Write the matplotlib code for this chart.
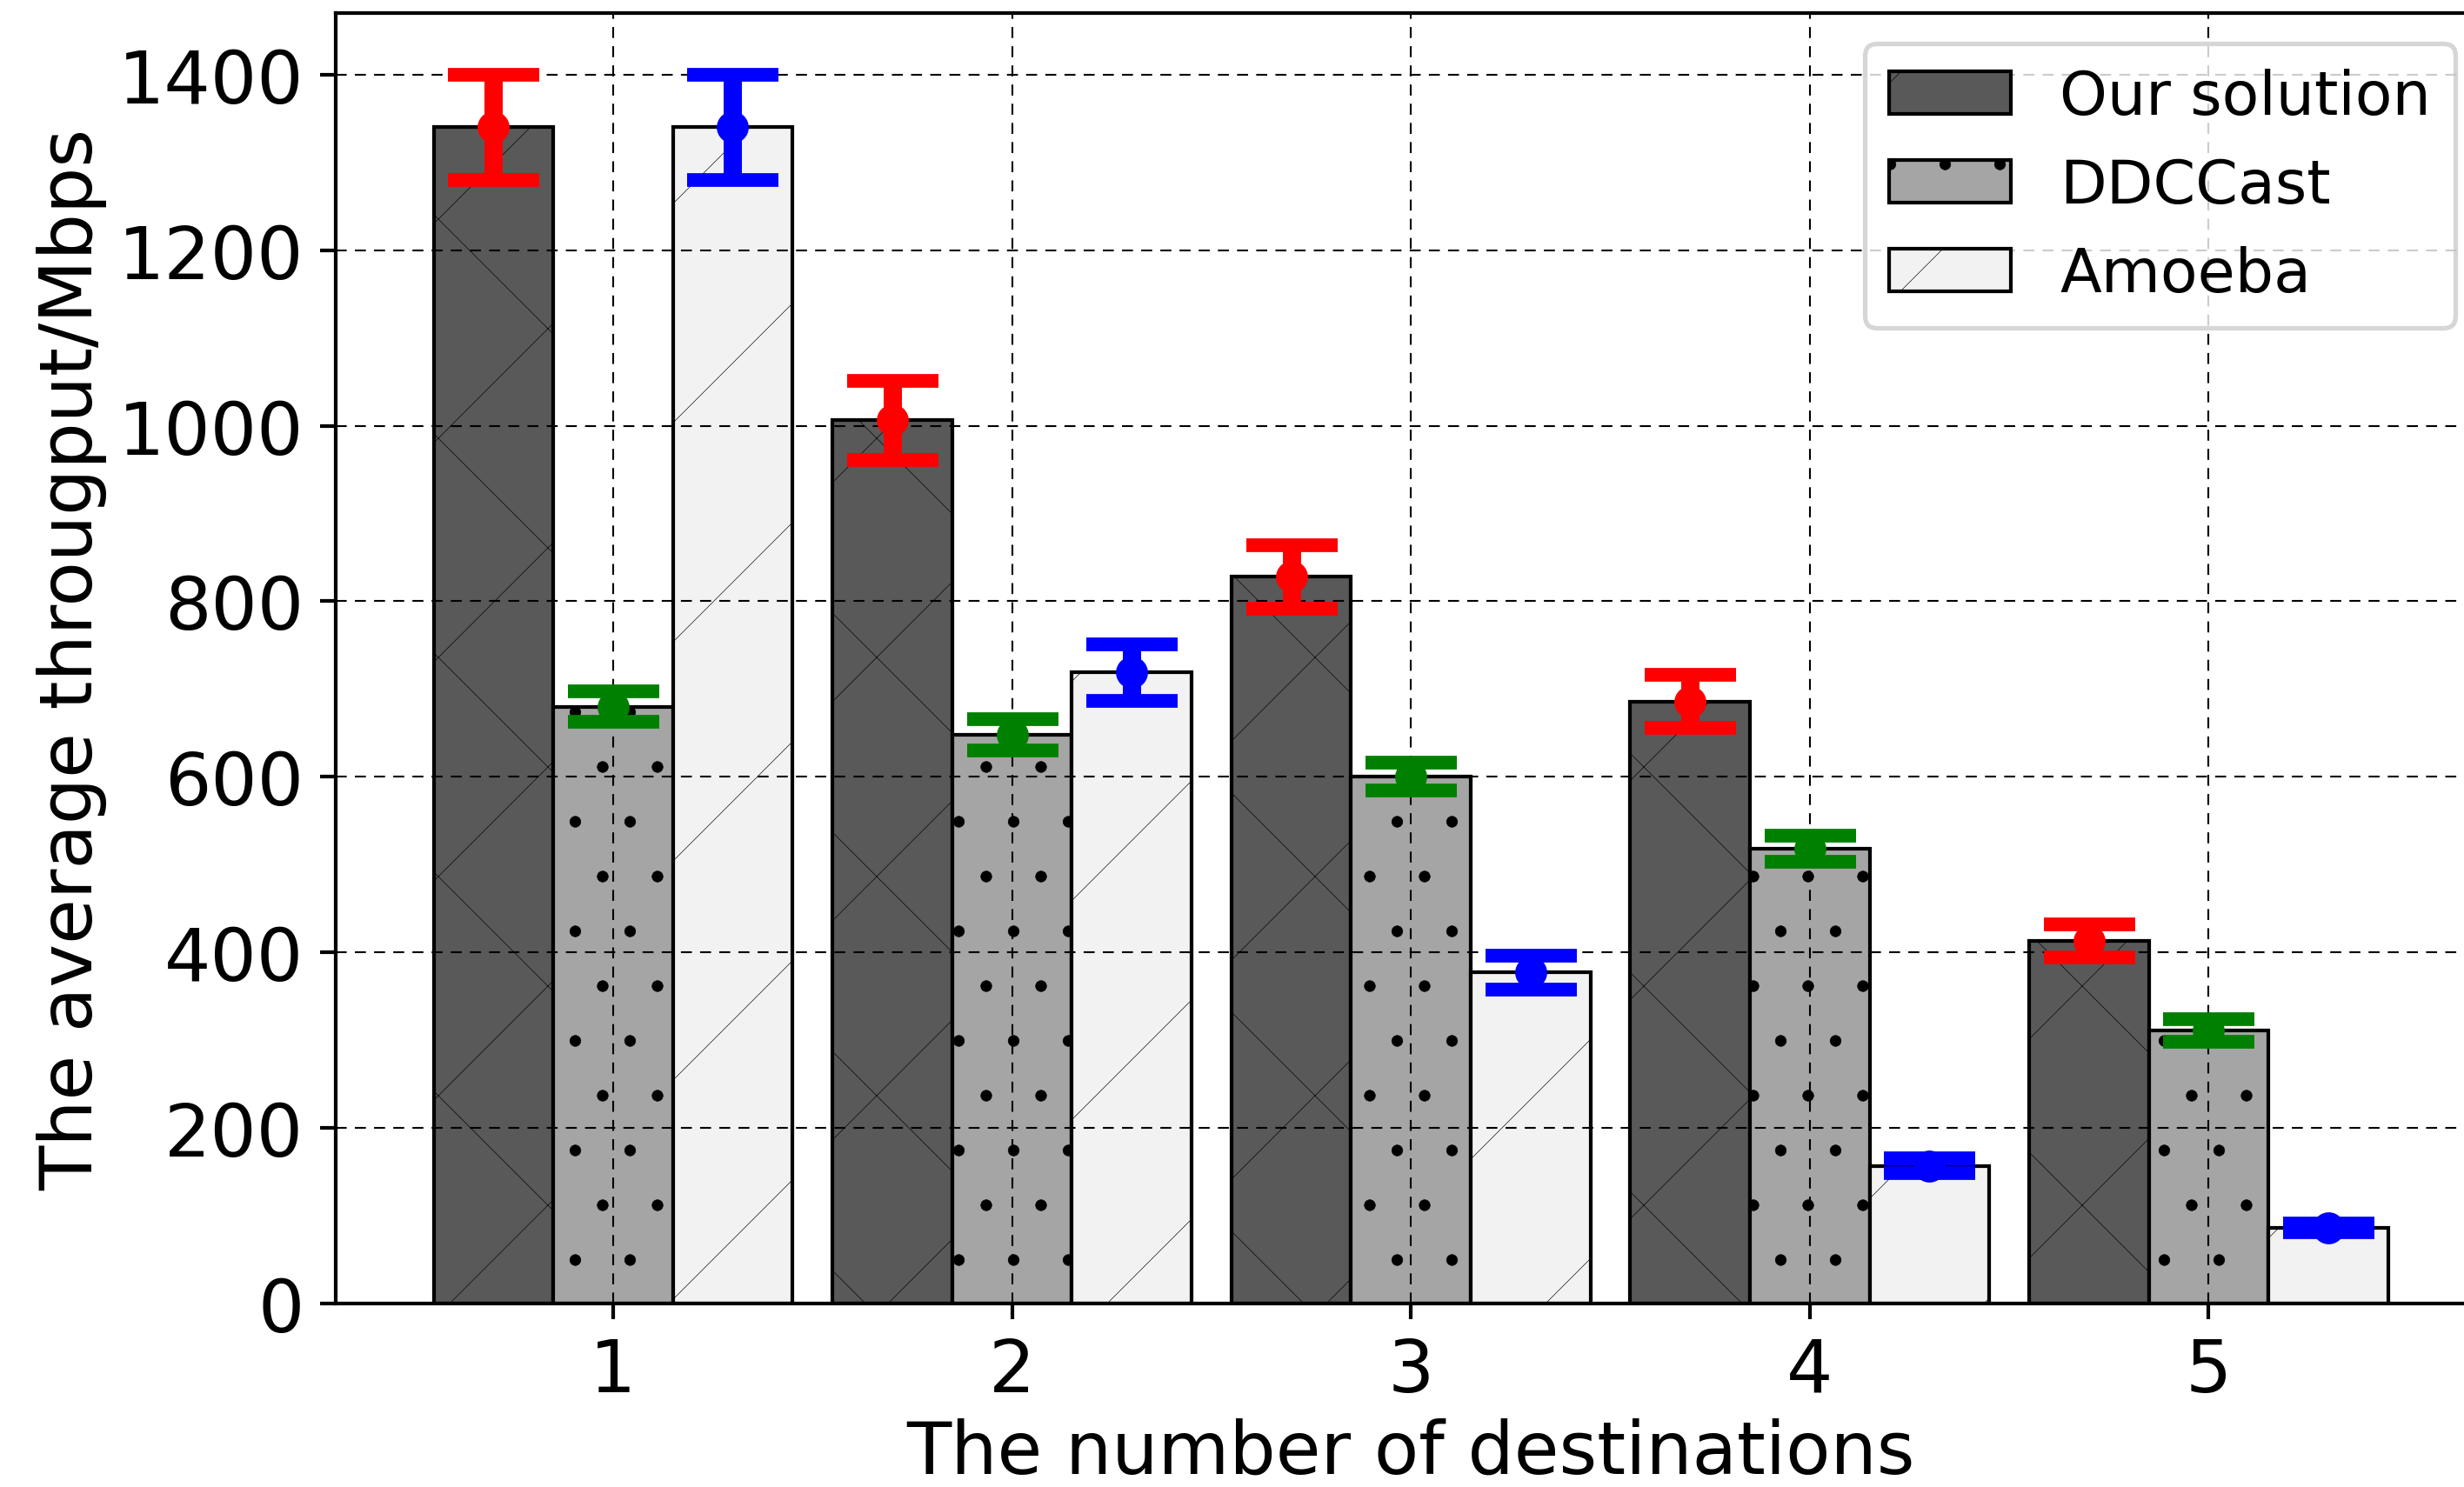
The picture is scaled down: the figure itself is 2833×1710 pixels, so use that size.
import matplotlib
matplotlib.use("Agg")
import matplotlib.pyplot as plt
import numpy as np

# average throughput per number of destinations (Mbps)
destinations = [1, 2, 3, 4, 5]
labels = ["Our solution", "DDCCast", "Amoeba"]

ours = [1340, 1006, 828, 686, 413]
ours_err = [60, 45, 36, 30, 19]
ddccast = [680, 648, 600, 518, 311]
ddccast_err = [17, 18, 16, 15, 13]
amoeba = [1340, 719, 377, 157, 86]
amoeba_err = [60, 32, 19, 8, 5]

# high dpi so the hatch lines come out as wide apart as in the original
dpi = 756
plt.rcParams.update({
    "font.size": 8,
    "axes.linewidth": 0.4,
    "xtick.major.size": 1.75, "xtick.major.width": 0.4, "xtick.major.pad": 1.75,
    "ytick.major.size": 1.75, "ytick.major.width": 0.4, "ytick.major.pad": 1.75,
    "axes.labelpad": 1.2,
    "patch.linewidth": 0.5,
    "lines.markeredgewidth": 0.5,
    "hatch.linewidth": 0.06,
})

fig = plt.figure(figsize=(2833 / dpi, 1711 / dpi), dpi=dpi)
ax = fig.add_axes([0.1363, 0.1233, 0.8726, 0.8673])

x = np.array(destinations)
w = 0.3
series = [ours, ddccast, amoeba]
errs = [ours_err, ddccast_err, amoeba_err]
fills = ["#595959", "#a5a5a5", "#f2f2f2"]
hatches = ["x", "..", "/"]
ecolors = ["red", "green", "blue"]

for i in range(3):
    pos = x + (i - 1) * w
    ax.bar(pos, series[i], w, color=fills[i], edgecolor="black",
           linewidth=0.4, hatch=hatches[i], label=labels[i])
    ax.errorbar(pos, series[i], yerr=errs[i], fmt="o", color=ecolors[i],
                markersize=3, elinewidth=2, capsize=5, capthick=1.5)

ax.set_xticks(destinations)
ax.grid(True, color="black", linestyle=(0, (6, 4.5)), linewidth=0.2)
ax.set_xlabel("The number of destinations")
ax.set_ylabel("The average througput/Mbps")
ax.legend(loc="upper right", fontsize=6.67)

fig.savefig("out.png", dpi=dpi)
